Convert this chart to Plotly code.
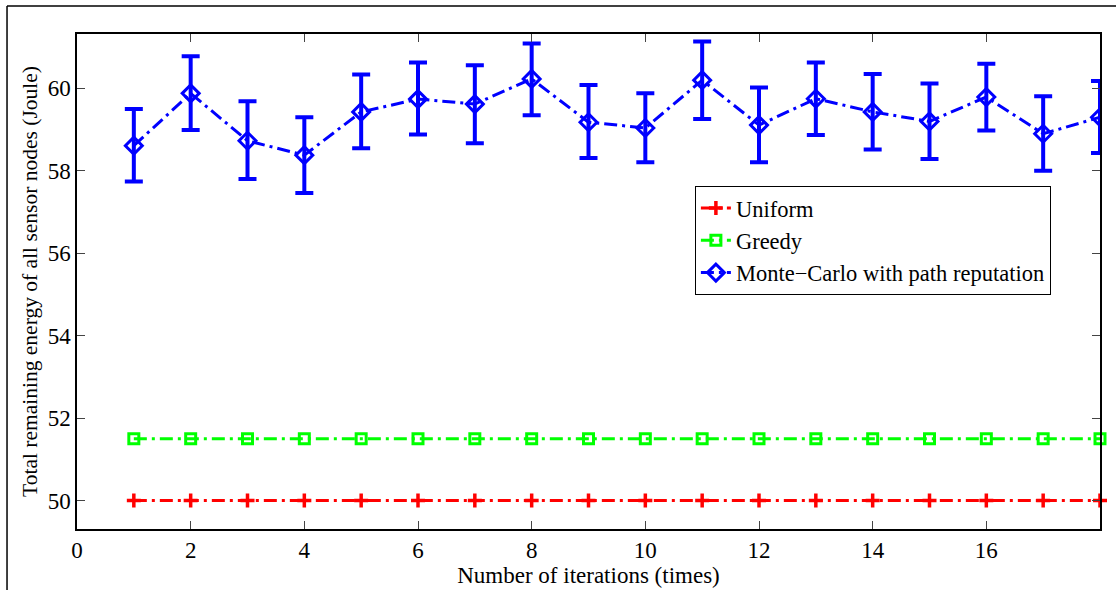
import plotly.graph_objects as go

iterations = list(range(1, 19))
uniform = [50.0] * 18
greedy = [51.5] * 18
monte_carlo = [58.61, 59.88, 58.73, 58.38, 59.43, 59.74, 59.62, 60.23, 59.18,
               59.04, 60.20, 59.11, 59.75, 59.43, 59.20, 59.79, 58.90, 59.30]
mc_upper = [59.50, 60.78, 59.69, 59.30, 60.34, 60.63, 60.56, 61.09, 60.08,
            59.88, 61.14, 60.02, 60.63, 60.35, 60.12, 60.60, 59.81, 60.18]
mc_lower = [57.74, 58.99, 57.80, 57.46, 58.55, 58.88, 58.67, 59.35, 58.31,
            58.21, 59.26, 58.21, 58.87, 58.52, 58.29, 58.98, 58.00, 58.43]

err_plus = [u - m for u, m in zip(mc_upper, monte_carlo)]
err_minus = [m - l for m, l in zip(monte_carlo, mc_lower)]

FONT = "Liberation Serif"
DASH = "13px,5px,3px,5px"

fig = go.Figure()
fig.add_trace(go.Scatter(
    x=iterations, y=uniform, name="Uniform", mode="lines+markers",
    line=dict(color="#ff0000", width=3, dash=DASH),
    marker=dict(symbol="cross-thin", size=10, line=dict(color="#ff0000", width=3.5), color="#ff0000"),
    cliponaxis=False,
))
fig.add_trace(go.Scatter(
    x=iterations, y=greedy, name="Greedy", mode="lines+markers",
    line=dict(color="#00ff00", width=3, dash=DASH),
    marker=dict(symbol="square-open", size=10, line=dict(color="#00ff00", width=3), color="#00ff00"),
    cliponaxis=False,
))
fig.add_trace(go.Scatter(
    x=iterations, y=monte_carlo, name="Monte\u2212Carlo with path reputation", mode="lines+markers",
    line=dict(color="#0000ff", width=3, dash=DASH),
    marker=dict(symbol="diamond-open", size=13, line=dict(color="#0000ff", width=3), color="#0000ff"),
    error_y=dict(type="data", symmetric=False, array=err_plus, arrayminus=err_minus,
                 color="#0000ff", thickness=4, width=9),
    cliponaxis=True,
))

axis_common = dict(
    showline=True, linecolor="black", linewidth=1.5, mirror="ticks",
    ticks="inside", ticklen=8, tickcolor="#444", tickwidth=1,
    showgrid=False, zeroline=False,
    tickfont=dict(family=FONT, size=23, color="black"),
)

fig.update_layout(
    width=1116, height=590,
    margin=dict(l=77, r=16, t=34, b=61),
    paper_bgcolor="white", plot_bgcolor="white",
    font=dict(family=FONT, size=21, color="black"),
    showlegend=True,
    legend=dict(x=0.604, y=0.693, xanchor="left", yanchor="top",
                bgcolor="white", bordercolor="black", borderwidth=1,
                font=dict(family=FONT, size=22.5, color="black"),
                tracegroupgap=0),
    xaxis=dict(range=[0, 18], tickvals=[0, 2, 4, 6, 8, 10, 12, 14, 16],
               title=dict(text="Number of iterations (times)", standoff=0,
                          font=dict(family=FONT, size=23)),
               **axis_common),
    yaxis=dict(range=[49.31, 61.32], tickvals=[50, 52, 54, 56, 58, 60],
               title=dict(text="Total remaining energy of all sensor nodes (Joule)", standoff=4,
                          font=dict(family=FONT, size=21.5)),
               **axis_common),
    shapes=[
        dict(type="line", xref="paper", yref="paper", x0=-0.0684, x1=-0.0684,
             y0=1.0566, y1=-0.2, line=dict(color="black", width=1.5)),
        dict(type="line", xref="paper", yref="paper", x0=-0.0684, x1=1.05,
             y0=1.0566, y1=1.0566, line=dict(color="black", width=1.5)),
    ],
)

fig.write_html("out.html")
